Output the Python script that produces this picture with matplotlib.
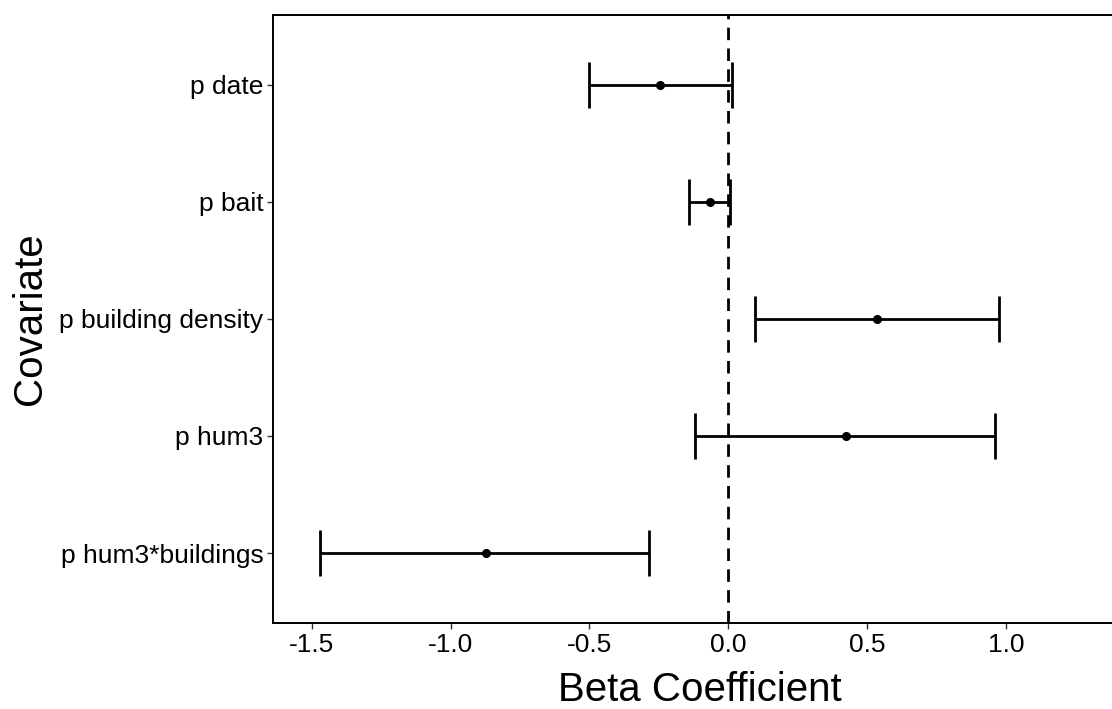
import matplotlib
matplotlib.use("Agg")
import matplotlib.pyplot as plt
import numpy as np

plt.rcParams['font.family'] = ['Liberation Sans', 'DejaVu Sans']

covariates = ["p date", "p bait", "p building density", "p hum3", "p hum3*buildings"]
estimate = [-0.246, -0.066, 0.534, 0.423, -0.873]
lower = [-0.500, -0.140, 0.096, -0.121, -1.470]
upper = [0.012, 0.006, 0.976, 0.961, -0.284]

xticks = [-1.5, -1.0, -0.5, 0.0, 0.5, 1.0]
xticklabels = ["-1.5", "-1.0", "-0.5", "0.0", "0.5", "1.0"]

fig = plt.figure(figsize=(11.12, 7.09), dpi=100)
ax = fig.add_axes([0.2458, 0.1209, 0.7542, 0.8586])

ypos = np.arange(len(covariates), 0, -1)
est = np.array(estimate)
lo = np.array(lower)
hi = np.array(upper)

ax.axvline(0, color='black', linestyle=(0, (4.5, 3)), linewidth=2.0, zorder=1)
ax.errorbar(est, ypos, xerr=[est - lo, hi - est], fmt='o', color='black',
            ecolor='black', elinewidth=2.0, capsize=16.5, capthick=2.0,
            markersize=5.5, zorder=3)

ax.set_xlim(-1.638, 1.381)
ax.set_ylim(0.4, 5.6)
ax.set_yticks(ypos)
ax.set_yticklabels(covariates, fontsize=19, color='black')
ax.set_xticks(xticks)
ax.set_xticklabels(xticklabels, fontsize=19, color='black')
ax.tick_params(axis='both', length=4, width=1.0, color='#333333', pad=3)

for s in ['left', 'bottom', 'top']:
    ax.spines[s].set_linewidth(1.4)
    ax.spines[s].set_color('black')
ax.spines['right'].set_visible(False)

ax.set_xlabel("Beta Coefficient", fontsize=29)
ax.set_ylabel("Covariate", fontsize=29)
ax.xaxis.set_label_coords(0.509, -0.110)
ax.yaxis.set_label_coords(-0.290, 0.5)
ax.xaxis.label.set_verticalalignment('center')
ax.yaxis.label.set_verticalalignment('center')

fig.savefig("out.png", dpi=100)
